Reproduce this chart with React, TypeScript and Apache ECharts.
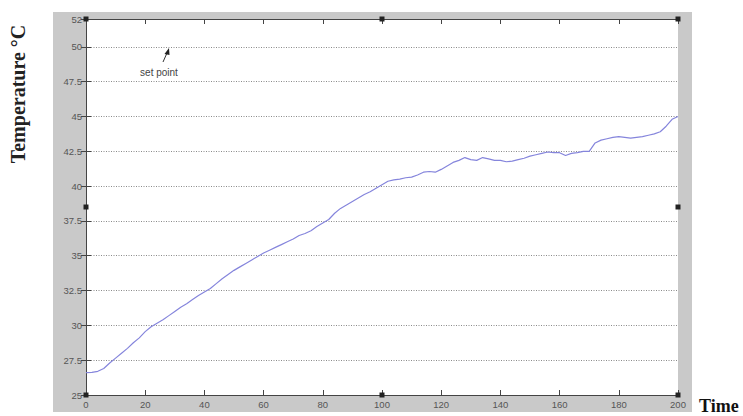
import React, { useEffect, useRef } from "react";
import * as echarts from "echarts";

// Time axis (samples)
const times = [
  0, 2, 4, 6, 8, 10, 12, 14, 16, 18, 20, 22, 24, 26, 28, 30, 32, 34, 36, 38,
  40, 42, 44, 46, 48, 50, 52, 54, 56, 58, 60, 62, 64, 66, 68, 70, 72, 74, 76, 78,
  80, 82, 84, 86, 88, 90, 92, 94, 96, 98, 100, 102, 104, 106, 108, 110, 112, 114, 116, 118,
  120, 122, 124, 126, 128, 130, 132, 134, 136, 138, 140, 142, 144, 146, 148, 150, 152, 154, 156, 158,
  160, 162, 164, 166, 168, 170, 172, 174, 176, 178, 180, 182, 184, 186, 188, 190, 192, 194, 196, 198,
  200,
];

// Measured temperature (°C)
const temps = [
  26.6, 26.62, 26.7, 26.9, 27.3, 27.65, 28.0, 28.35, 28.75, 29.1,
  29.55, 29.9, 30.15, 30.4, 30.7, 31.0, 31.3, 31.55, 31.85, 32.15,
  32.4, 32.65, 33.0, 33.35, 33.65, 33.95, 34.2, 34.45, 34.7, 34.95,
  35.2, 35.4, 35.6, 35.8, 36.0, 36.2, 36.45, 36.6, 36.8, 37.1,
  37.35, 37.6, 38.05, 38.4, 38.65, 38.9, 39.15, 39.4, 39.6, 39.85,
  40.1, 40.35, 40.45, 40.5, 40.6, 40.65, 40.8, 41.0, 41.05, 41.0,
  41.2, 41.45, 41.7, 41.85, 42.05, 41.9, 41.85, 42.05, 41.95, 41.85,
  41.85, 41.75, 41.8, 41.9, 42.0, 42.15, 42.25, 42.35, 42.45, 42.4,
  42.4, 42.2, 42.35, 42.4, 42.5, 42.5, 43.1, 43.3, 43.4, 43.5,
  43.55, 43.5, 43.45, 43.5, 43.55, 43.65, 43.75, 43.9, 44.3, 44.8,
  45.0,
];

const yAxisName = "Temperature °C";
const xAxisName = "Time";
const annotationText = "set point";

export default function App() {
  const ref = useRef<HTMLDivElement>(null);

  useEffect(() => {
    document.body.style.margin = "0";
    if (!ref.current) return;
    const chart = echarts.init(ref.current, null, { renderer: "svg" });

    const W = 743;
    const H = 416;
    const L = 86;
    const T = 19;
    const R = 678;
    const B = 395;
    const grey = "#c9c9c9";
    const gx0 = 53;
    const gx1 = 692;
    const gy0 = 12;
    const gy1 = 412;

    const handles: any[] = [];
    const hx = [L, (L + R) / 2, R];
    const hy = [T, (T + B) / 2, B];
    hx.forEach((x, i) =>
      hy.forEach((y, j) => {
        if (i === 1 && j === 1) return;
        handles.push({
          type: "rect",
          shape: { x: x - 2.5, y: y - 2.5, width: 5, height: 5 },
          style: { fill: "#222" },
          z: 100,
        });
      })
    );

    chart.setOption({
      animation: false,
      backgroundColor: "#fff",
      grid: {
        left: L,
        top: T,
        right: W - R,
        bottom: H - B,
        show: true,
        backgroundColor: "#fff",
        borderWidth: 0,
      },
      xAxis: [
        {
          type: "value",
          min: 0,
          max: 200,
          interval: 20,
          position: "bottom",
          axisLine: { show: true, lineStyle: { color: "#444", width: 1 } },
          axisTick: { show: true, inside: true, length: 5, lineStyle: { color: "#444" } },
          axisLabel: { margin: 4, fontSize: 9.5, color: "#555", fontFamily: "Liberation Sans" },
          splitLine: { show: false },
        },
        {
          type: "value",
          min: 0,
          max: 200,
          interval: 20,
          position: "top",
          axisLine: { show: true, lineStyle: { color: "#444", width: 1 } },
          axisTick: { show: true, inside: true, length: 5, lineStyle: { color: "#444" } },
          axisLabel: { show: false },
          splitLine: { show: false },
        },
      ],
      yAxis: [
        {
          type: "value",
          min: 25,
          max: 52,
          interval: 2.5,
          position: "left",
          axisLine: { show: true, lineStyle: { color: "#444", width: 1 } },
          axisTick: { show: true, inside: true, length: 5, lineStyle: { color: "#444" } },
          axisLabel: { margin: 4, fontSize: 9.5, color: "#555", fontFamily: "Liberation Sans" },
          splitLine: { show: true, lineStyle: { color: "#8a8a8a", type: [1, 1.5], width: 1 } },
        },
        {
          type: "value",
          min: 25,
          max: 52,
          interval: 2.5,
          position: "right",
          axisLine: { show: true, lineStyle: { color: "#444", width: 1 } },
          axisTick: { show: true, inside: true, length: 5, lineStyle: { color: "#444" } },
          axisLabel: { show: false },
          splitLine: { show: false },
        },
      ],
      series: [
        {
          type: "line",
          xAxisIndex: 0,
          yAxisIndex: 0,
          data: times.map((t, i) => [t, temps[i]]),
          showSymbol: false,
          smooth: false,
          lineStyle: { color: "#8585dc", width: 1.2 },
          z: 5,
        },
      ],
      graphic: [
        // grey figure frame around the axes
        { type: "rect", shape: { x: gx0, y: gy0, width: gx1 - gx0, height: T - gy0 }, style: { fill: grey }, z: -10 },
        { type: "rect", shape: { x: gx0, y: B, width: gx1 - gx0, height: gy1 - B }, style: { fill: grey }, z: -10 },
        { type: "rect", shape: { x: gx0, y: gy0, width: L - gx0, height: gy1 - gy0 }, style: { fill: grey }, z: -10 },
        { type: "rect", shape: { x: R, y: gy0, width: gx1 - R, height: gy1 - gy0 }, style: { fill: grey }, z: -10 },
        ...handles,
        {
          type: "text",
          x: 18,
          y: 94,
          rotation: Math.PI / 2,
          style: {
            text: yAxisName,
            fill: "#222",
            font: "bold 20px 'Liberation Serif'",
            textAlign: "center",
            textVerticalAlign: "middle",
          },
          z: 50,
        },
        {
          type: "text",
          x: 699,
          y: 406,
          style: {
            text: xAxisName,
            fill: "#111",
            font: "bold 18px 'Liberation Serif'",
            textAlign: "left",
            textVerticalAlign: "middle",
          },
          z: 50,
        },
        {
          type: "text",
          x: 159,
          y: 72,
          style: {
            text: annotationText,
            fill: "#444",
            font: "10px 'Liberation Sans'",
            textAlign: "center",
            textVerticalAlign: "middle",
          },
          z: 50,
        },
        {
          type: "line",
          shape: { x1: 163, y1: 62, x2: 167, y2: 53 },
          style: { stroke: "#333", lineWidth: 1 },
          z: 50,
        },
        {
          type: "polygon",
          shape: { points: [[169, 48], [164.5, 54], [169.5, 55]] },
          style: { fill: "#222" },
          z: 50,
        },
      ],
    });

    return () => chart.dispose();
  }, []);

  return <div ref={ref} style={{ width: 743, height: 416 }} />;
}
